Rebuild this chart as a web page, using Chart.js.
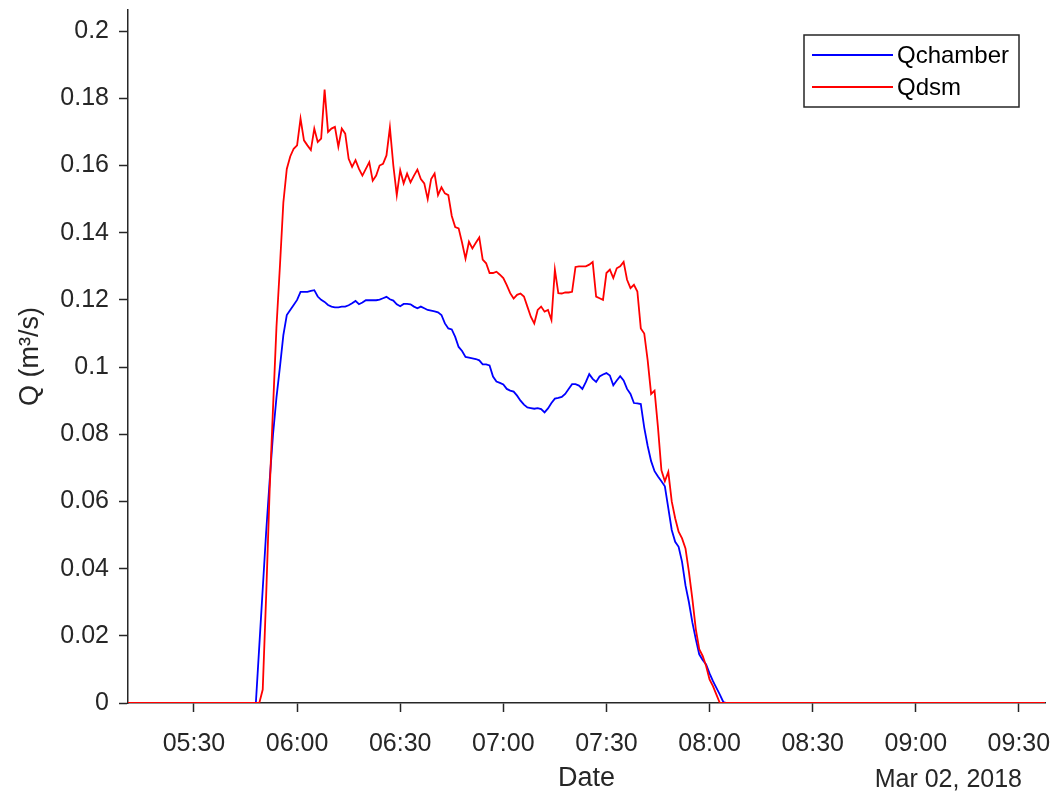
<!DOCTYPE html>
<html>
<head>
<meta charset="utf-8">
<script src="https://cdn.jsdelivr.net/npm/chart.js@4.4.0/dist/chart.umd.min.js"></script>
<style>
  html, body { margin: 0; padding: 0; background: #fff; }
</style>
</head>
<body>
<canvas id="q-chart" width="1055" height="795"></canvas>
<script>
// time is kept as minutes after midnight
const axisStart = 310.8
const axisEnd = 577.6
const firstSample = 346   // 05:46, one sample a minute after this
const xTickLabels = ['05:30', '06:00', '06:30', '07:00', '07:30', '08:00', '08:30', '09:00', '09:30']
const yTicks = [0, 0.02, 0.04, 0.06, 0.08, 0.1, 0.12, 0.14, 0.16, 0.18, 0.2]
const dateLabel = 'Mar 02, 2018'
const seriesNames = ['Qchamber', 'Qdsm']

const qchamber = [
    0, 0, 0, 0.017, 0.034, 0.051, 0.066, 0.080, 0.091, 0.100,
    0.1095, 0.1155, 0.117, 0.1185, 0.120, 0.1224, 0.1224, 0.1224, 0.1227, 0.1229,
    0.121, 0.120, 0.1194, 0.1185, 0.118, 0.1178, 0.1178, 0.118, 0.118, 0.1184,
    0.119, 0.1197, 0.1187, 0.1192, 0.1199, 0.1199, 0.1199, 0.1199, 0.1201, 0.1205,
    0.1209, 0.1202, 0.1198, 0.1187, 0.1181, 0.1188, 0.1188, 0.1187, 0.118, 0.1175,
    0.118, 0.1175, 0.117, 0.1168, 0.1166, 0.1163, 0.1155, 0.113, 0.1115, 0.1112,
    0.109, 0.106, 0.1048, 0.103, 0.1028, 0.1026, 0.1024, 0.102, 0.1008, 0.1008,
    0.1005, 0.0972, 0.0957, 0.0953, 0.0948, 0.0935, 0.093, 0.0927, 0.0915, 0.090,
    0.0888, 0.088, 0.0878, 0.0876, 0.0878, 0.0875, 0.0865, 0.0877, 0.0893, 0.0906,
    0.0908, 0.0911, 0.092, 0.0935, 0.0949, 0.0949, 0.0945, 0.0935, 0.0955, 0.0979,
    0.0965, 0.0956, 0.0972, 0.0978, 0.0982, 0.0975, 0.0946, 0.096, 0.0973, 0.096,
    0.0935, 0.092, 0.0893, 0.0892, 0.089, 0.082, 0.0765, 0.072, 0.069, 0.0674,
    0.066, 0.0645, 0.058, 0.0515, 0.048, 0.0465, 0.042, 0.035, 0.030, 0.024,
    0.019, 0.0145, 0.0128, 0.0115, 0.0088, 0.0065, 0.0045, 0.0025, 0.0003, 0
]

const qdsm = [
    0, 0, 0, 0, 0.004, 0.032, 0.063, 0.088, 0.112, 0.130,
    0.149, 0.159, 0.1627, 0.165, 0.166, 0.174, 0.1675, 0.166, 0.1646, 0.171,
    0.167, 0.168, 0.1826, 0.170, 0.171, 0.1715, 0.1656, 0.171, 0.1695, 0.162,
    0.1596, 0.1616, 0.159, 0.157, 0.159, 0.161, 0.1555, 0.157, 0.160, 0.1605,
    0.163, 0.1713, 0.160, 0.1512, 0.1586, 0.1547, 0.1576, 0.155, 0.157, 0.1588,
    0.156, 0.1547, 0.150, 0.156, 0.1576, 0.1512, 0.1535, 0.1517, 0.1512, 0.145,
    0.1417, 0.1413, 0.137, 0.1323, 0.1373, 0.1353, 0.137, 0.1386, 0.132, 0.1309,
    0.128, 0.128, 0.1284, 0.1275, 0.1265, 0.1244, 0.122, 0.1204, 0.1215, 0.1219,
    0.121, 0.118, 0.115, 0.113, 0.117, 0.118, 0.1165, 0.117, 0.114, 0.129,
    0.122, 0.1219, 0.1222, 0.1222, 0.1224, 0.1298, 0.130, 0.130, 0.130, 0.1305,
    0.1313, 0.121, 0.1205, 0.120, 0.128, 0.129, 0.1265, 0.1294, 0.130, 0.1313,
    0.126, 0.1235, 0.1245, 0.1225, 0.1115, 0.110, 0.102, 0.092, 0.093, 0.082,
    0.0693, 0.066, 0.0688, 0.060, 0.055, 0.051, 0.049, 0.046, 0.039, 0.031,
    0.022, 0.016, 0.014, 0.011, 0.007, 0.005, 0.0025, 0, 0, 0
]

const fontFamily = '"Liberation Sans", Arial, Helvetica, sans-serif'
const axisColor = '#262626'

const toMinutes = (label) => {
    const [h, m] = label.split(':')
    return Number(h) * 60 + Number(m)
}

// flat zero before and after the event, then the minute samples
const toPoints = (values) => {
    const pts = [{ x: axisStart, y: 0 }]
    values.forEach((v, i) => pts.push({ x: firstSample + i, y: v }))
    pts.push({ x: axisEnd, y: 0 })
    return pts
}

// matlab style legend with a box round it
const legendBox = {
    id: 'legendBox',
    afterDraw(chart) {
        const c = chart.ctx
        const area = chart.chartArea
        const x = area.right - 241
        const y = area.top + 25
        c.save()
        c.fillStyle = '#fff'
        c.fillRect(x, y, 215, 72)
        c.strokeStyle = axisColor
        c.lineWidth = 1.5
        c.strokeRect(x, y, 215, 72)
        c.font = '24px ' + fontFamily
        c.textBaseline = 'middle'
        c.textAlign = 'left'
        chart.data.datasets.forEach((ds, i) => {
            const rowY = y + 20 + i * 32
            c.strokeStyle = ds.borderColor
            c.lineWidth = 1.8
            c.beginPath()
            c.moveTo(x + 8, rowY)
            c.lineTo(x + 89, rowY)
            c.stroke()
            c.fillStyle = '#000'
            c.fillText(ds.label, x + 93, rowY + 1)
        })
        c.restore()
    }
}

const dateNote = {
    id: 'dateNote',
    afterDraw(chart) {
        const c = chart.ctx
        c.save()
        c.font = '25px ' + fontFamily
        c.fillStyle = axisColor
        c.textAlign = 'right'
        c.textBaseline = 'alphabetic'
        c.fillText(dateLabel, chart.chartArea.right - 23, 787)
        c.restore()
    }
}

const ctx = document.getElementById('q-chart').getContext('2d')
const qChart = new Chart(ctx, {
    type: 'line',
    data: {
        datasets: [{
            label: seriesNames[0],
            data: toPoints(qchamber),
            borderColor: '#0000ff',
            borderWidth: 1.8,
            pointRadius: 0,
            tension: 0,
            order: 1
        }, {
            label: seriesNames[1],
            data: toPoints(qdsm),
            borderColor: '#ff0000',
            borderWidth: 1.8,
            pointRadius: 0,
            tension: 0,
            order: 0
        }]
    },
    options: {
        responsive: false,
        animation: false,
        devicePixelRatio: 1,
        layout: { padding: { top: 10, right: 10, left: 0, bottom: 0 } },
        plugins: {
            legend: { display: false },
            tooltip: { enabled: false }
        },
        scales: {
            x: {
                type: 'linear',
                min: axisStart,
                max: axisEnd,
                afterBuildTicks: (scale) => {
                    scale.ticks = xTickLabels.map(l => ({ value: toMinutes(l) }))
                },
                afterFit: (scale) => {
                    scale.height = 92
                    scale.paddingLeft = 0
                    scale.paddingRight = 0
                },
                grid: {
                    drawOnChartArea: false,
                    drawTicks: true,
                    tickLength: 9,
                    tickWidth: 1.5,
                    tickColor: axisColor
                },
                border: { color: axisColor, width: 1.5 },
                ticks: {
                    color: axisColor,
                    font: { family: fontFamily, size: 25 },
                    padding: 17,
                    maxRotation: 0,
                    autoSkip: false,
                    callback: (v, i) => xTickLabels[i]
                },
                title: {
                    display: true,
                    text: 'Date',
                    color: axisColor,
                    font: { family: fontFamily, size: 27 },
                    padding: { top: 0, bottom: 0 }
                }
            },
            y: {
                min: 0,
                max: 0.2063,
                afterBuildTicks: (scale) => {
                    scale.ticks = yTicks.map(v => ({ value: v }))
                },
                afterFit: (scale) => {
                    scale.width = 128
                    scale.paddingTop = 0
                    scale.paddingBottom = 0
                },
                grid: {
                    drawOnChartArea: false,
                    drawTicks: true,
                    tickLength: 9,
                    tickWidth: 1.5,
                    tickColor: axisColor
                },
                border: { color: axisColor, width: 1.5 },
                ticks: {
                    color: axisColor,
                    font: { family: fontFamily, size: 25 },
                    padding: 10,
                    autoSkip: false,
                    callback: (v) => String(Number(v.toFixed(2)))
                },
                title: {
                    display: true,
                    text: 'Q (m³/s)',
                    color: axisColor,
                    font: { family: fontFamily, size: 27 },
                    padding: { top: 14, bottom: 0 }
                }
            }
        }
    },
    plugins: [legendBox, dateNote]
})
</script>
</body>
</html>
